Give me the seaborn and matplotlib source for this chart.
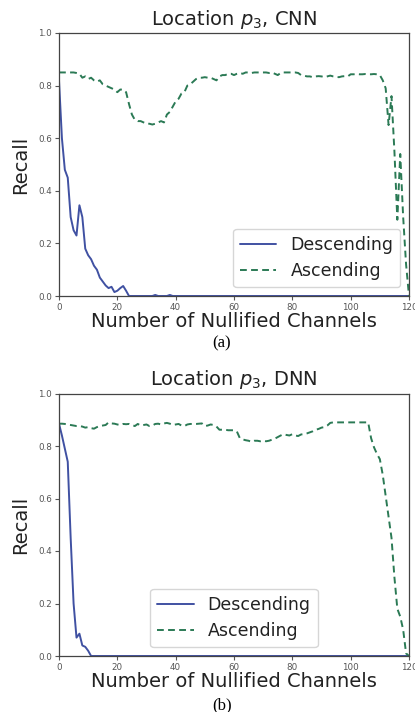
import numpy as np
import pandas as pd
import matplotlib
matplotlib.use("Agg")
import matplotlib.pyplot as plt
import seaborn as sns

channels = list(range(121))

cnn_descending = [0.82, 0.60, 0.48, 0.45, 0.30, 0.25, 0.23, 0.345, 0.30, 0.18,
                  0.155, 0.14, 0.115, 0.10, 0.07, 0.055, 0.04, 0.03, 0.035, 0.015,
                  0.02, 0.03, 0.038, 0.02, 0.0, 0.0, 0.0, 0.0, 0.0, 0.0,
                  0.0, 0.0, 0.0, 0.004, 0.0, 0.0, 0.0, 0.0, 0.004, 0.0] + [0.0] * 81

cnn_ascending = [0.85, 0.85, 0.85, 0.85, 0.85, 0.85, 0.848, 0.845, 0.83, 0.835,
                 0.825, 0.83, 0.82, 0.815, 0.82, 0.805, 0.80, 0.795, 0.79, 0.785,
                 0.775, 0.785, 0.785, 0.775, 0.73, 0.69, 0.67, 0.665, 0.665, 0.66,
                 0.655, 0.655, 0.652, 0.655, 0.66, 0.665, 0.66, 0.69, 0.70, 0.72,
                 0.74, 0.75, 0.77, 0.775, 0.80, 0.805, 0.815, 0.825, 0.83, 0.83,
                 0.832, 0.83, 0.83, 0.825, 0.82, 0.835, 0.84, 0.84, 0.845, 0.845,
                 0.84, 0.845, 0.848, 0.845, 0.85, 0.85, 0.848, 0.85, 0.85, 0.85,
                 0.85, 0.85, 0.848, 0.85, 0.845, 0.84, 0.848, 0.85, 0.85, 0.85,
                 0.85, 0.85, 0.848, 0.84, 0.838, 0.835, 0.835, 0.832, 0.835, 0.836,
                 0.835, 0.832, 0.835, 0.838, 0.835, 0.833, 0.832, 0.835, 0.836, 0.835,
                 0.843, 0.843, 0.844, 0.843, 0.843, 0.844, 0.843, 0.843, 0.844, 0.843,
                 0.84, 0.82, 0.79, 0.65, 0.76, 0.55, 0.29, 0.54, 0.30, 0.12, 0.0]

dnn_descending = [0.885, 0.84, 0.79, 0.74, 0.45, 0.20, 0.07, 0.085, 0.04, 0.035,
                  0.02, 0.0] + [0.0] * 109

dnn_ascending = [0.885, 0.885, 0.884, 0.882, 0.88, 0.878, 0.876, 0.876, 0.874, 0.87,
                 0.872, 0.868, 0.866, 0.872, 0.876, 0.878, 0.88, 0.89, 0.886, 0.885,
                 0.882, 0.88, 0.884, 0.883, 0.884, 0.88, 0.876, 0.884, 0.878, 0.88,
                 0.882, 0.876, 0.878, 0.884, 0.885, 0.882, 0.886, 0.888, 0.885, 0.88,
                 0.882, 0.884, 0.878, 0.876, 0.882, 0.884, 0.884, 0.884, 0.885, 0.886,
                 0.876, 0.878, 0.882, 0.88, 0.874, 0.862, 0.862, 0.862, 0.86, 0.86,
                 0.86, 0.855, 0.83, 0.825, 0.822, 0.82, 0.816, 0.82, 0.82, 0.818,
                 0.82, 0.818, 0.82, 0.824, 0.828, 0.834, 0.84, 0.845, 0.842, 0.84,
                 0.845, 0.84, 0.838, 0.844, 0.845, 0.848, 0.852, 0.856, 0.862, 0.865,
                 0.87, 0.872, 0.878, 0.888, 0.89, 0.89, 0.89, 0.89, 0.89, 0.89,
                 0.89, 0.89, 0.89, 0.89, 0.89, 0.89, 0.89, 0.83, 0.795, 0.77,
                 0.75, 0.69, 0.61, 0.53, 0.45, 0.30, 0.18, 0.15, 0.10, 0.01, 0.0]

titles = ["Location $p_3$, CNN", "Location $p_3$, DNN"]
captions = ["(a)", "(b)"]
x_ticks = [0, 20, 40, 60, 80, 100, 120]
y_ticks = [0.0, 0.2, 0.4, 0.6, 0.8, 1.0]

sns.set_style("white")
plt.rcParams['font.family'] = ['DejaVu Sans']

BLUE = "#4051a2"
GREEN = "#2b7a55"

W, H = 415, 712
fig = plt.figure(figsize=(W / 100, H / 100), dpi=100)

panels = [
    (cnn_descending, cnn_ascending, 296, 263, "lower right", 343),
    (dnn_descending, dnn_ascending, 656, 262.5, "lower center", 705),
]

for i, (desc, asc, bottom_px, h_px, loc, cap_y) in enumerate(panels):
    ax = fig.add_axes([59 / W, (H - bottom_px) / H, 350 / W, h_px / H])
    df = pd.DataFrame({"x": channels, "desc": desc, "asc": asc})
    sns.lineplot(data=df, x="x", y="desc", ax=ax, color=BLUE, linewidth=1.4,
                 label="Descending")
    sns.lineplot(data=df, x="x", y="asc", ax=ax, color=GREEN, linewidth=1.4,
                 linestyle=(0, (3.5, 2.2)), label="Ascending")
    ax.set_xlim(0, 120)
    ax.set_ylim(0, 1.0)
    ax.set_xticks(x_ticks)
    ax.set_yticks(y_ticks)
    ax.set_xticklabels([str(t) for t in x_ticks])
    ax.set_yticklabels([f"{t:.1f}" for t in y_ticks])
    ax.tick_params(axis="both", labelsize=6.3, labelcolor="#555555", length=3,
                   width=0.8, color="#555555", direction="out", pad=2,
                   bottom=True, left=True)
    for s in ax.spines.values():
        s.set_color("#444444")
        s.set_linewidth(0.9)
    ax.set_title(titles[i], fontsize=14, pad=6, color="#222222")
    ax.set_xlabel("Number of Nullified Channels", fontsize=14, labelpad=0,
                  color="#222222")
    ax.set_ylabel("Recall", fontsize=14, labelpad=6, color="#222222")
    leg = ax.legend(loc=loc, fontsize=12.5, frameon=True, fancybox=True,
                    handlelength=2.1)
    leg.get_frame().set_edgecolor("#cccccc")
    for t in leg.get_texts():
        t.set_color("#222222")
    fig.text(0.535, 1 - cap_y / H, captions[i], ha="center", va="center",
             fontsize=12, family="Liberation Serif", color="black")

fig.savefig("out.png", dpi=100)
